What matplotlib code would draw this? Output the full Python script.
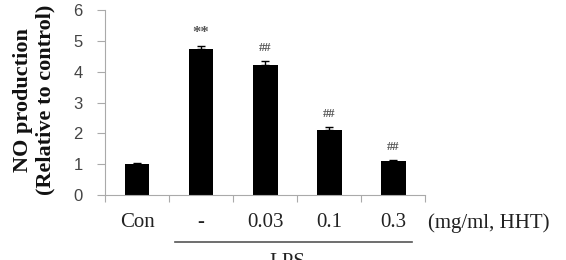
import numpy as np
import matplotlib.pyplot as plt

plt.rcParams['font.family'] = ['Liberation Serif', 'DejaVu Serif']

groups = ["Con", "-", "0.03", "0.1", "0.3"]
values = [1.0, 4.72, 4.22, 2.1, 1.1]
errors = [0.03, 0.12, 0.12, 0.1, 0.03]
marks = ["", "**", "##", "##", "##"]

fig = plt.figure(figsize=(5.66, 2.6), dpi=100)
ax = fig.add_axes([0.1855, 0.25, 0.5655, 0.7115])

x = np.arange(len(groups))
ax.bar(x, values, width=0.39, color="black", zorder=2)
ax.errorbar(x, values, yerr=[np.zeros(len(errors)), errors], fmt="none",
            ecolor="black", elinewidth=1, capsize=3, capthick=1, zorder=3)

for xi, v, e, m in zip(x, values, errors, marks):
    if m:
        fs = 12 if m == "**" else 9
        ax.text(xi, v + e + 0.43, m, ha="center", va="center", fontsize=fs,
                color="#555555", fontweight="bold")

ax.set_xlim(-0.5, len(groups) - 0.5)
ax.set_ylim(0, 6)
ax.set_yticks(range(7))
ax.set_yticklabels([str(i) for i in range(7)], family="Liberation Sans")
ax.set_xticks(np.arange(len(groups) + 1) - 0.5)
ax.set_xticklabels([])
ax.tick_params(axis="x", direction="out", length=5, color="#aaaaaa")
ax.tick_params(axis="y", direction="out", length=6, color="#aaaaaa",
               labelsize=12, labelcolor="#444444", pad=10)

for xi, g in zip(x, groups):
    ax.text(xi, -0.9, g, ha="center", va="center", fontsize=15,
            color="#222222", clip_on=False)
ax.text(len(groups) - 0.46, -0.9, "(mg/ml, HHT)", ha="left", va="center",
        fontsize=15, color="#222222", clip_on=False)

ax.plot([0.6, 4.3], [-1.53, -1.53], color="#555555", lw=1.2, clip_on=False)
ax.text(2.35, -2.2, "LPS", ha="center", va="center", fontsize=15,
        color="#222222", clip_on=False)

for s in ["top", "right"]:
    ax.spines[s].set_visible(False)
for s in ["left", "bottom"]:
    ax.spines[s].set_color("#aaaaaa")

fig.text(0.061, 0.615, "NO production\n(Relative to control)", rotation=90,
         ha="center", va="center", fontsize=16, fontweight="bold",
         linespacing=1.15, color="#111111")

fig.savefig("out.png", dpi=100)
